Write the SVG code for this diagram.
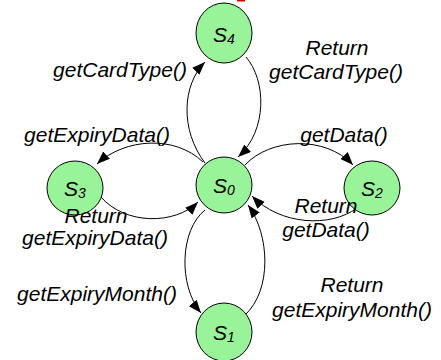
<svg xmlns="http://www.w3.org/2000/svg" width="441" height="360" viewBox="0 0 441 360">
  <style>
    .state { fill: #99f399; stroke: #000; stroke-width: 1; }
    .sl { font-family: "Liberation Sans", Arial, sans-serif; font-style: italic; font-size: 21px; fill: #000; text-anchor: middle; }
    .sub { font-size: 14px; }
    .lbl { font-family: "Liberation Sans", Arial, sans-serif; font-style: italic; font-size: 21px; fill: #000; text-anchor: middle; }
    .edge { fill: none; stroke: #000; stroke-width: 1; marker-end: url(#arrow); }
  </style>
  <defs>
    <marker id="arrow" markerUnits="userSpaceOnUse" markerWidth="14" markerHeight="10" refX="13" refY="5" orient="auto">
      <path d="M0,0 L13,5 L0,10 Z" fill="#000"/>
    </marker>
  </defs>

  <rect x="237" y="0" width="8" height="1.5" fill="#e00000"/>

  <g id="connectors">
    <path class="edge" d="M205,163 C180,130 182,85 205,62"/>
    <path class="edge" d="M246,57 C266,80 268,130 238,157"/>
    <path class="edge" d="M245,165 C270,138 325,135 353,165"/>
    <path class="edge" d="M357,208 C330,228 280,225 252,196"/>
    <path class="edge" d="M203,162 C175,135 125,138 97,164"/>
    <path class="edge" d="M101,197 C125,225 175,225 198,202"/>
    <path class="edge" d="M205,210 C180,230 178,285 201,313"/>
    <path class="edge" d="M245,315 C272,290 270,235 248,205"/>
  </g>

  <g id="S4">
    <ellipse class="state" cx="224" cy="33" rx="28" ry="30"/>
    <text class="sl" x="224" y="42">S<tspan class="sub" dy="2">4</tspan></text>
  </g>
  <g id="S0">
    <ellipse class="state" cx="224" cy="185" rx="28" ry="28"/>
    <text class="sl" x="224" y="193">S<tspan class="sub" dy="2">0</tspan></text>
  </g>
  <g id="S3">
    <ellipse class="state" cx="75" cy="188" rx="28" ry="27"/>
    <text class="sl" x="75" y="196">S<tspan class="sub" dy="2">3</tspan></text>
  </g>
  <g id="S2">
    <ellipse class="state" cx="372" cy="188" rx="28" ry="27"/>
    <text class="sl" x="372" y="196">S<tspan class="sub" dy="2">2</tspan></text>
  </g>
  <g id="S1">
    <ellipse class="state" cx="224" cy="332" rx="28" ry="29"/>
    <text class="sl" x="224" y="340">S<tspan class="sub" dy="2">1</tspan></text>
  </g>

  <g id="labels">
    <text class="lbl" x="120" y="77">getCardType()</text>
    <text class="lbl" x="337" y="55">Return</text>
    <text class="lbl" x="336" y="79">getCardType()</text>
    <text class="lbl" x="97" y="142">getExpiryData()</text>
    <text class="lbl" x="344" y="142">getData()</text>
    <text class="lbl" x="96" y="223">Return</text>
    <text class="lbl" x="95" y="245">getExpiryData()</text>
    <text class="lbl" x="326" y="213">Return</text>
    <text class="lbl" x="326" y="237">getData()</text>
    <text class="lbl" x="97" y="301">getExpiryMonth()</text>
    <text class="lbl" x="352" y="292">Return</text>
    <text class="lbl" x="352" y="317">getExpiryMonth()</text>
  </g>
</svg>
